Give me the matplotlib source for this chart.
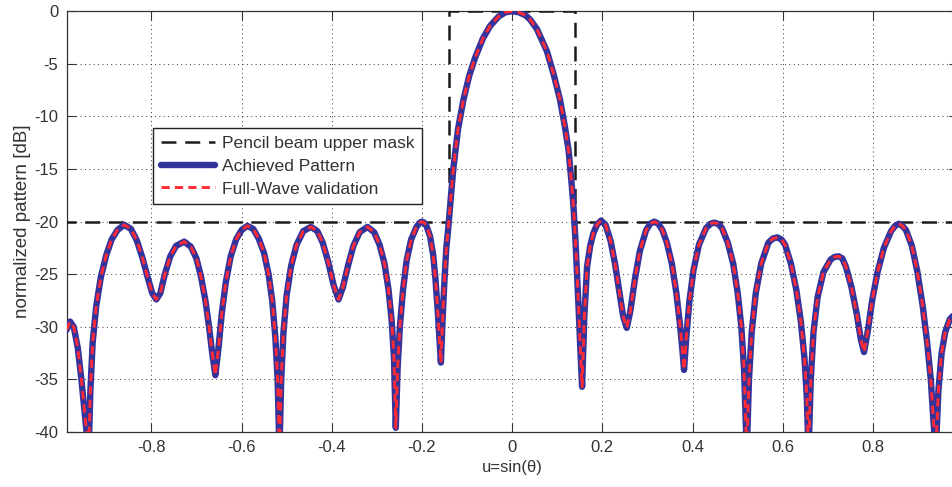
import matplotlib
matplotlib.use("Agg")
import matplotlib.pyplot as plt

# ---- data ----
u_vals = [
    -0.988, -0.980, -0.972, -0.963, -0.955, -0.947, -0.939,
    -0.935, -0.930, -0.922, -0.912, -0.900, -0.888, -0.875, -0.860, -0.845, -0.832,
    -0.820, -0.808, -0.798, -0.789,
    -0.780, -0.770, -0.758, -0.745, -0.727, -0.712, -0.700, -0.690, -0.680, -0.672,
    -0.665, -0.658,
    -0.651, -0.644, -0.635, -0.624, -0.612, -0.600, -0.587, -0.574, -0.562, -0.550,
    -0.540, -0.532, -0.525, -0.520, -0.516,
    -0.512, -0.507, -0.500, -0.490, -0.478, -0.463, -0.446, -0.432, -0.420, -0.408,
    -0.396, -0.385,
    -0.375, -0.364, -0.352, -0.338, -0.321, -0.306, -0.294, -0.283, -0.274, -0.267,
    -0.262, -0.258,
    -0.254, -0.249, -0.242, -0.234, -0.224, -0.212, -0.205, -0.200, -0.195, -0.190,
    -0.182, -0.175, -0.170, -0.165, -0.158,
    -0.154, -0.150, -0.146, -0.141, -0.135, -0.130, -0.120, -0.108, -0.095, -0.082,
    -0.065, -0.049, -0.030, -0.015, 0.000,
    0.015, 0.030, 0.040, 0.055, 0.077, 0.092, 0.106, 0.117, 0.125, 0.132, 0.136,
    0.140, 0.143, 0.147, 0.151, 0.155,
    0.160, 0.166, 0.173, 0.180, 0.188, 0.197, 0.207, 0.218, 0.228, 0.238, 0.246, 0.254,
    0.262, 0.272, 0.283, 0.297, 0.306, 0.315, 0.324, 0.333, 0.343, 0.354, 0.364, 0.372,
    0.378, 0.381,
    0.386, 0.393, 0.402, 0.414, 0.430, 0.440, 0.448, 0.456, 0.465, 0.478, 0.490, 0.500,
    0.508, 0.514, 0.520,
    0.525, 0.531, 0.540, 0.552, 0.568, 0.578, 0.588, 0.597, 0.605, 0.618, 0.630, 0.640,
    0.648, 0.653, 0.657,
    0.662, 0.668, 0.677, 0.690, 0.706, 0.715, 0.724, 0.732, 0.740, 0.752, 0.764, 0.773,
    0.780,
    0.788, 0.798, 0.810, 0.824, 0.840, 0.849, 0.857, 0.865, 0.873, 0.886, 0.898, 0.910,
    0.920, 0.928, 0.934, 0.939,
    0.945, 0.952, 0.960, 0.970, 0.976, 0.988,
]
achieved_db = [
    -30.3, -29.5, -30.0, -32.0, -35.0, -38.5, -42.0,
    -36.0, -31.5, -28.0, -25.3, -23.2, -21.7, -20.8, -20.3, -20.7, -21.8,
    -23.4, -25.3, -26.8, -27.4,
    -26.8, -25.0, -23.3, -22.3, -21.9, -22.4, -23.5, -25.2, -27.5, -30.0,
    -32.5, -34.6,
    -32.0, -28.8, -25.8, -23.3, -21.7, -20.8, -20.4, -20.7, -21.6, -23.0,
    -25.0, -27.5, -31.0, -35.0, -42.0,
    -35.0, -30.5, -27.0, -24.2, -22.2, -20.9, -20.5, -20.9, -22.0, -23.8,
    -26.0, -27.4,
    -26.2, -24.2, -22.3, -21.0, -20.5, -21.0, -22.2, -24.0, -26.5, -29.5,
    -33.0, -39.6,
    -34.0, -30.0, -26.5, -23.7, -21.7, -20.5, -20.1, -20.0, -20.1, -20.4,
    -21.4, -23.2, -25.5, -28.5, -33.4,
    -29.0, -25.5, -22.5, -20.3, -17.2, -14.8, -11.2, -8.4, -6.1, -4.4,
    -2.6, -1.4, -0.5, -0.1, 0.0,
    -0.1, -0.4, -0.8, -1.7, -3.8, -6.0, -8.4, -11.0, -13.2, -16.5, -18.6,
    -21.5, -24.3, -28.0, -32.0, -35.7,
    -29.0, -24.3, -22.3, -21.1, -20.3, -19.9, -20.3, -21.8, -24.0, -26.8, -29.0, -30.1,
    -28.5, -25.5, -22.8, -20.8, -20.2, -20.0, -20.2, -20.8, -22.0, -24.0, -26.8, -29.8,
    -32.5, -34.1,
    -31.0, -27.5, -24.6, -22.2, -20.6, -20.2, -20.1, -20.2, -20.6, -22.0, -24.0, -26.8,
    -30.0, -34.0, -42.0,
    -35.0, -30.5, -26.8, -24.0, -22.0, -21.6, -21.5, -21.7, -22.2, -24.0, -26.5, -29.5,
    -33.0, -36.5, -42.0,
    -35.0, -30.5, -27.2, -24.8, -23.6, -23.35, -23.3, -23.5, -24.3, -26.2, -28.8, -31.2,
    -32.4,
    -30.5, -27.5, -24.8, -22.5, -20.9, -20.4, -20.2, -20.4, -20.8, -22.3, -24.7, -28.0,
    -31.5, -35.0, -39.0, -42.0,
    -36.0, -32.5, -30.5, -29.3, -29.0, -28.7,
]
fullwave_db = list(achieved_db)

mask_u = [-1.0, -0.14, -0.14, 0.14, 0.14, 1.0]
mask_db = [-20, -20, 0, 0, -20, -20]

xticks = [-0.8, -0.6, -0.4, -0.2, 0, 0.2, 0.4, 0.6, 0.8]
xticklabels = ["-0.8", "-0.6", "-0.4", "-0.2", "0", "0.2", "0.4", "0.6", "0.8"]
yticks = [0, -5, -10, -15, -20, -25, -30, -35, -40]
yticklabels = ["0", "-5", "-10", "-15", "-20", "-25", "-30", "-35", "-40"]

# ---- figure ----
plt.rcParams['font.family'] = ['Liberation Sans', 'DejaVu Sans']
fig = plt.figure(figsize=(9.52, 4.87), dpi=100)
ax = fig.add_axes([0.070, 0.1129, 0.936, 0.864])

ax.plot(mask_u, mask_db, color='#1a1a1a', lw=1.8, dashes=(6, 3.5),
        label='Pencil beam upper mask', zorder=3)
ax.plot(u_vals, achieved_db, color='#33339c', lw=4.6, solid_joinstyle='round',
        solid_capstyle='round', label='Achieved Pattern', zorder=4)
ax.plot(u_vals, fullwave_db, color='#ff2a35', lw=2.1, dashes=(2.8, 1.8),
        label='Full-Wave validation', zorder=5)

ax.set_xlim(-0.9877, 0.9877)
ax.set_ylim(-40, 0)
ax.set_xticks(xticks)
ax.set_xticklabels(xticklabels)
ax.set_yticks(yticks)
ax.set_yticklabels(yticklabels)

ax.grid(True, color='#333333', linestyle=(0, (1, 3.5)), linewidth=0.7)
ax.tick_params(direction='in', length=6.5, width=0.8, colors='#333333',
               labelsize=12, top=True, right=True, pad=6)
for s in ax.spines.values():
    s.set_color('#333333')
    s.set_linewidth(0.9)

ax.set_xlabel('u=sin(θ)', fontsize=12, color='#333333', labelpad=3)
ax.set_ylabel('normalized pattern [dB]', fontsize=13.5, color='#333333', labelpad=2)

leg = ax.legend(loc='upper left', bbox_to_anchor=(0.0972, 0.722), borderaxespad=0,
                fancybox=False, framealpha=1, edgecolor='#222222', fontsize=12.6,
                handlelength=3.1, handletextpad=0.35, labelspacing=0.42,
                borderpad=0.45)
leg.get_frame().set_linewidth(1.0)
for t in leg.get_texts():
    t.set_color('#333333')

fig.savefig('out.png', dpi=100)
